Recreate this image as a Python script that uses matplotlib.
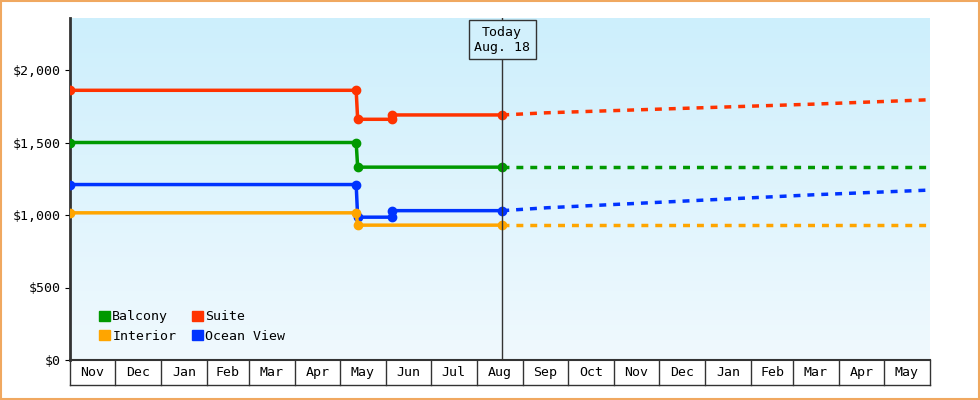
import matplotlib
matplotlib.use("Agg")
import matplotlib.pyplot as plt
import numpy as np
from matplotlib.patches import Rectangle, Patch

months = ["Nov","Dec","Jan","Feb","Mar","Apr","May","Jun","Jul","Aug","Sep","Oct","Nov","Dec","Jan","Feb","Mar","Apr","May"]
month_days = [30,31,31,28,31,30,31,30,31,31,30,31,30,31,31,28,31,30,31]
today_day = 290
today_label = "Today\nAug. 18"

# history (day offset from Nov 1, price)
suite_x = [0, 192, 193, 216, 216, 290]
suite_y = [1860, 1860, 1660, 1660, 1690, 1690]
balcony_x = [0, 192, 193, 290]
balcony_y = [1500, 1500, 1330, 1330]
ocean_x = [0, 192, 193, 216, 216, 290]
ocean_y = [1210, 1210, 985, 985, 1030, 1030]
interior_x = [0, 192, 193, 290]
interior_y = [1015, 1015, 930, 930]
# forecast
fc_x = [290, 320, 380, 440, 500, 577]
suite_fc = [1690, 1705, 1725, 1745, 1765, 1795]
balcony_fc = [1330, 1330, 1330, 1330, 1330, 1330]
ocean_fc = [1030, 1050, 1080, 1110, 1140, 1172]
interior_fc = [930, 930, 930, 930, 930, 930]

plt.rcParams['font.family'] = ['DejaVu Sans Mono']
fig = plt.figure(figsize=(9.8, 4.0), dpi=100)
fig.patch.set_facecolor("white")
fig.add_artist(Rectangle((0.001, 0.0025), 0.998, 0.995, transform=fig.transFigure,
                         fill=False, ec="#f0a860", lw=1.5))
total = sum(month_days)
ytop = 2000*342/290
ax = fig.add_axes([70/980, 40/400, 860/980, 342/400])
ax.imshow(np.linspace(0, 1, 256).reshape(-1, 1),
          cmap=matplotlib.colors.LinearSegmentedColormap.from_list("g", ["#f0f9fe", "#cdeffc"]),
          extent=[0, total, 0, ytop], origin="lower", aspect="auto", zorder=0)
ax.set_xlim(0, total)
ax.set_ylim(0, ytop)

cols = {"Balcony": "#009900", "Suite": "#ff3300", "Interior": "#ffa500", "Ocean View": "#0033ff"}
series = [("Suite", suite_x, suite_y, suite_fc), ("Balcony", balcony_x, balcony_y, balcony_fc),
          ("Ocean View", ocean_x, ocean_y, ocean_fc), ("Interior", interior_x, interior_y, interior_fc)]
for name, xs, ys, fc in series:
    c = cols[name]
    ax.plot(xs, ys, color=c, lw=2.5, marker="o", ms=6, zorder=3)
    ax.plot(fc_x, fc, color=c, lw=2.5, ls=(0, (2, 2)), zorder=3)

ax.axvline(today_day, color="#333333", lw=1, zorder=4)
ax.text(today_day, 2210, today_label, ha="center", va="center", fontsize=9.5, zorder=5,
        bbox=dict(boxstyle="square,pad=0.4", fc="#d2f0fc", ec="#333333", lw=1))

ax.set_yticks([0, 500, 1000, 1500, 2000])
ax.set_yticklabels(["$0", "$500", "$1,000", "$1,500", "$2,000"], fontsize=9.5)
ax.set_xticks([])
for s in ["top", "right"]:
    ax.spines[s].set_visible(False)
ax.spines["left"].set_linewidth(2)
ax.spines["left"].set_color("#333333")
ax.spines["bottom"].set_color("#333333")
ax.spines["bottom"].set_linewidth(1.5)

# month boxes
edges = np.concatenate([[0], np.cumsum(month_days)])
bh = -0.072
for i, m in enumerate(months):
    ax.text((edges[i] + edges[i+1]) / 2, bh/2, m, transform=ax.get_xaxis_transform(),
            ha="center", va="center", fontsize=9.5)
    ax.plot([edges[i+1], edges[i+1]], [0, bh], transform=ax.get_xaxis_transform(),
            color="#333333", lw=1, clip_on=False)
ax.plot([0, total], [bh, bh], transform=ax.get_xaxis_transform(), color="#333333", lw=1, clip_on=False)
ax.plot([0, 0], [0, bh], transform=ax.get_xaxis_transform(), color="#333333", lw=1, clip_on=False)

handles = [Patch(color=cols[n]) for n in ["Balcony", "Interior", "Suite", "Ocean View"]]
ax.legend(handles, ["Balcony", "Interior", "Suite", "Ocean View"], ncol=2, loc="lower left",
          bbox_to_anchor=(0.02, 0.015), frameon=False, fontsize=9.5, handlelength=0.8,
          handleheight=0.8, handletextpad=0.2, columnspacing=1.2, labelspacing=0.5)
fig.savefig("out.png", dpi=100)
